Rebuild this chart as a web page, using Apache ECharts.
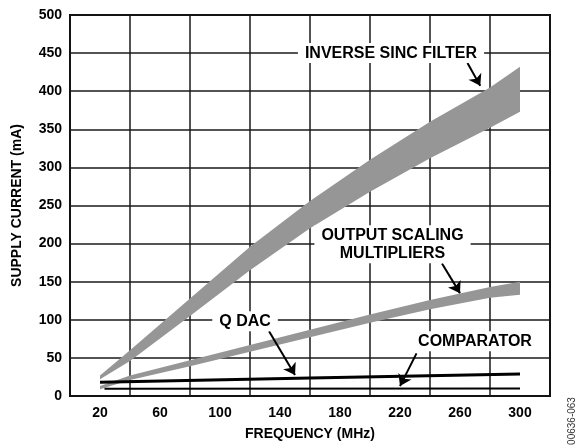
<!DOCTYPE html>
<html>
<head>
<meta charset="utf-8">
<script src="https://cdn.jsdelivr.net/npm/echarts@6/dist/echarts.min.js"></script>
<style>
html, body { margin: 0; padding: 0; background: #fff; }
#chart { width: 576px; height: 446px; }
</style>
</head>
<body>
<div id="chart"></div>
<script>
// frequency points (MHz) used for the two shaded bands
var bandFreq = [20, 40, 80, 120, 160, 200, 240, 280, 300];
// inverse sinc filter band (mA)
var sincLow = [22, 46, 105, 165, 220, 268, 312, 352, 373];
var sincHigh = [27, 60, 128, 196, 256, 310, 360, 405, 432];
// output scaling multipliers band (mA)
var scaleLow = [9, 21, 39, 58, 77, 96, 114, 129, 133];
var scaleHigh = [13, 27, 47, 67, 87, 107, 126, 143, 150];
// Q DAC line
var qdacFreq = [20, 160, 300];
var qdacVal = [18, 23.5, 29];
// comparator line
var compFreq = [23, 300];
var compVal = [9.5, 10];
// x tick labels shown between grid lines
var xLabels = [20, 60, 100, 140, 180, 220, 260, 300];

// annotation texts and arrows (data coordinates)
var notes = [
    { text: 'INVERSE SINC FILTER', at: [214, 450], from: [265, 437], to: [273.5, 407] },
    { text: 'OUTPUT SCALING\nMULTIPLIERS', at: [215, 199], from: [248, 174], to: [260, 135] },
    { text: 'Q DAC', at: [116.7, 98], from: [132.7, 85], to: [150, 27.5] },
    { text: 'COMPARATOR', at: [270, 72], from: [231, 56], to: [220, 13] }
];

var FONT = 'Liberation Sans, Arial, Helvetica, sans-serif';
var GRAY = '#969696';

function pairs(xs, ys) {
    return xs.map(function (x, i) { return [x, ys[i]]; });
}

// 阴影带：用 custom 系列画下沿到上沿的多边形
function band(name, lo, hi) {
    var rows = bandFreq.map(function (x, i) { return [x, lo[i], hi[i]]; });
    return {
        name: name, type: 'custom', silent: true, z: 2,
        encode: { x: 0, y: [1, 2] },
        data: rows,
        renderItem: function (params, api) {
            if (params.dataIndex !== 0) {
                return null;
            }
            var upper = rows.map(function (r) { return api.coord([r[0], r[2]]); });
            var lower = rows.map(function (r) { return api.coord([r[0], r[1]]); }).reverse();
            return {
                type: 'polygon',
                shape: { points: upper.concat(lower) },
                style: { fill: GRAY, stroke: null }
            };
        }
    };
}

var chart = echarts.init(document.getElementById('chart'));

var series = [
    band('sinc', sincLow, sincHigh),
    band('scale', scaleLow, scaleHigh),
    {
        name: 'qdac', type: 'line', data: pairs(qdacFreq, qdacVal), z: 3,
        showSymbol: false, lineStyle: { color: '#000', width: 3 }
    },
    {
        name: 'comparator', type: 'line', data: pairs(compFreq, compVal), z: 3,
        showSymbol: false, lineStyle: { color: '#000', width: 2 }
    },
    {
        name: 'notes', type: 'line', data: [], z: 5,
        markLine: {
            silent: true,
            symbol: ['none', 'arrow'],
            symbolSize: 11,
            label: { show: false },
            lineStyle: { color: '#000', width: 2, type: 'solid' },
            data: notes.map(function (n) {
                return [{ coord: n.from }, { coord: n.to }];
            })
        },
        markPoint: {
            silent: true,
            symbol: 'rect',
            symbolSize: 1,
            itemStyle: { color: 'rgba(0,0,0,0)' },
            label: {
                show: true, position: 'inside',
                color: '#000', fontFamily: FONT, fontWeight: 'bold', fontSize: 16,
                lineHeight: 18, align: 'center',
                backgroundColor: '#fff', padding: [1, 7],
                formatter: function (p) { return p.name; }
            },
            data: notes.map(function (n) {
                return { name: n.text, coord: n.at };
            })
        }
    }
];

chart.setOption({
    animation: false,
    textStyle: { fontFamily: FONT },
    grid: {
        left: 70, right: 26, top: 15, bottom: 48,
        show: true, borderColor: '#000', borderWidth: 2, backgroundColor: '#fff'
    },
    xAxis: [
        {
            type: 'value', min: 0, max: 320, interval: 40,
            axisLine: { show: false }, axisTick: { show: false },
            axisLabel: { show: false },
            splitLine: { show: true, lineStyle: { color: '#1a1a1a', width: 1.5 } }
        },
        {
            type: 'value', min: 0, max: 320, interval: 20, position: 'bottom',
            axisLine: { show: false }, axisTick: { show: false },
            splitLine: { show: false },
            axisLabel: {
                color: '#000', fontWeight: 'bold', fontSize: 14, margin: 10,
                formatter: function (v) { return xLabels.indexOf(v) >= 0 ? String(v) : ''; }
            },
            name: 'FREQUENCY (MHz)', nameLocation: 'middle', nameGap: 31,
            nameTextStyle: { color: '#000', fontWeight: 'bold', fontSize: 14 }
        }
    ],
    yAxis: {
        type: 'value', min: 0, max: 500, interval: 50,
        axisLine: { show: false }, axisTick: { show: false },
        axisLabel: { color: '#000', fontWeight: 'bold', fontSize: 14, margin: 8 },
        splitLine: { show: true, lineStyle: { color: '#1a1a1a', width: 1.5 } },
        name: 'SUPPLY CURRENT (mA)', nameLocation: 'middle', nameGap: 46,
        nameTextStyle: { color: '#000', fontWeight: 'bold', fontSize: 14 }
    },
    graphic: [
        {
            type: 'text', x: 572, y: 421, rotation: Math.PI / 2,
            style: {
                text: '00636-063', fill: '#333', font: '10px ' + FONT,
                align: 'center', verticalAlign: 'middle'
            }
        }
    ],
    series: series
});
</script>
</body>
</html>
